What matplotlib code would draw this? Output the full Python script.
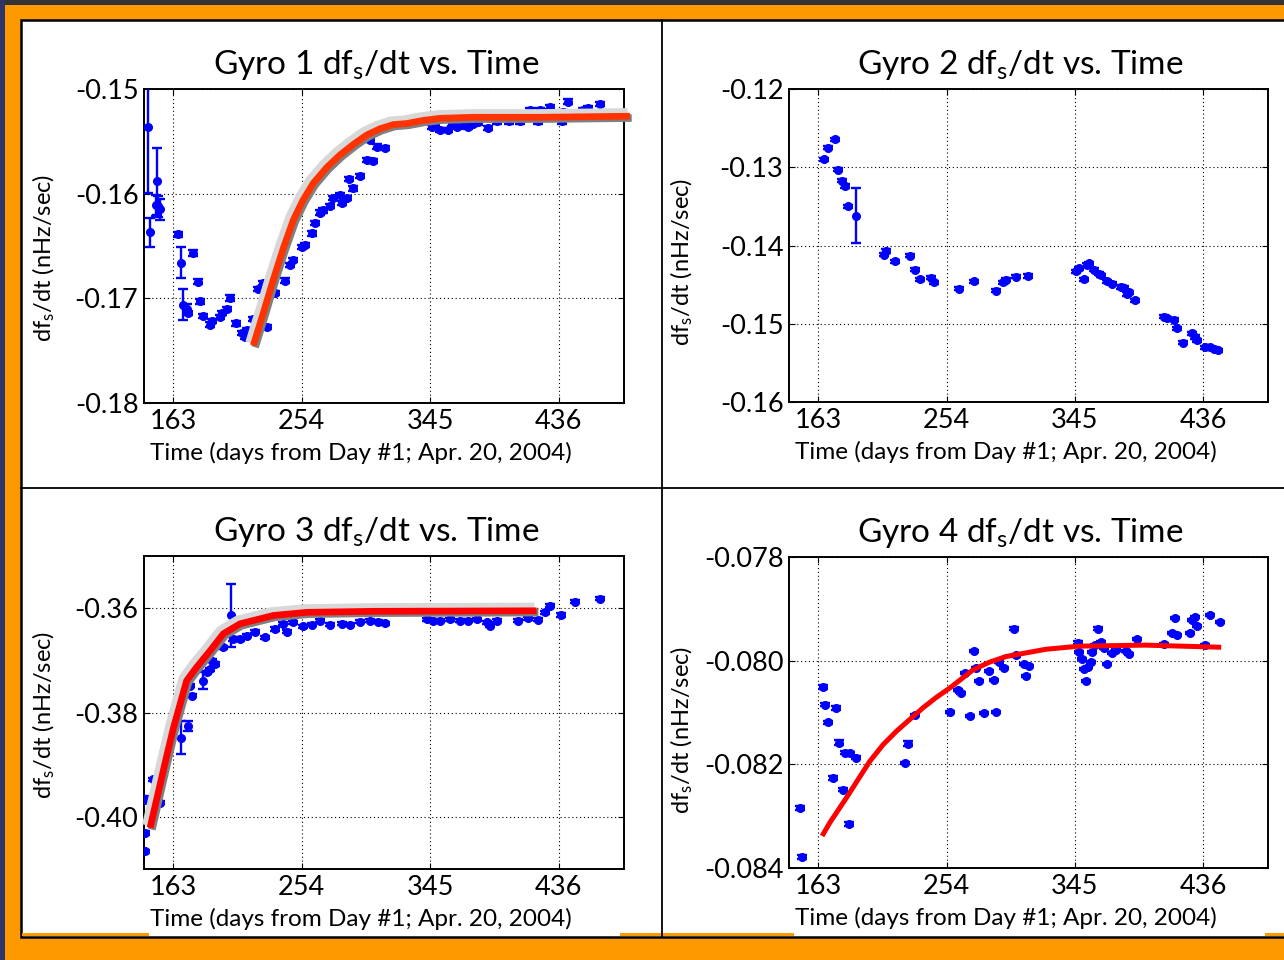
import matplotlib
matplotlib.use("Agg")
import matplotlib.pyplot as plt
import matplotlib.patheffects as pe
from matplotlib.patches import Rectangle
from matplotlib.lines import Line2D
from matplotlib.ticker import FormatStrFormatter

plt.rcParams["font.family"] = ["Lato", "DejaVu Sans"]
plt.rcParams["mathtext.fontset"] = "custom"
plt.rcParams["mathtext.rm"] = "Lato"
plt.rcParams["mathtext.it"] = "Lato:italic"
plt.rcParams["mathtext.bf"] = "Lato:bold"

# ---------------- data ----------------
day_ticks = [163, 254, 345, 436]

# Gyro 1
g1_days = [145.2, 146.5, 151.6, 150.7, 152.3, 153.5, 166.5, 168.2, 177.1, 170.0,
           172.4, 173.6, 180.7, 181.9, 184.2, 188.9, 190.1, 196.0, 197.2, 200.8,
           203.1, 207.4, 211.4, 213.7, 214.9, 219.6, 223.1, 226.3, 229.1, 235.0,
           242.1, 245.6, 248.0, 253.9, 256.2, 261.0, 263.3, 266.8, 269.2, 273.9,
           276.3, 281.0, 282.2, 285.8, 287.6, 290.4, 295.2, 299.9, 302.3, 304.6,
           307.4, 312.9, 345.9, 351.8, 357.7, 363.6, 371.9, 375.4, 386.0, 408.5,
           415.6, 421.5, 422.6, 429.7, 438.0, 439.1, 442.7, 453.3, 456.8, 465.2,
           348.5, 360.5, 368.5, 379.0, 392.0, 400.5]
g1_rate = [-0.1536, -0.1637, -0.1588, -0.1611, -0.1612, -0.1615, -0.1639, -0.1666, -0.1657, -0.1706,
           -0.1710, -0.1714, -0.1684, -0.1703, -0.1717, -0.1725, -0.1722, -0.1718, -0.1714, -0.1710,
           -0.1700, -0.1724, -0.1733, -0.1737, -0.1730, -0.1720, -0.1691, -0.1685, -0.1727, -0.1695,
           -0.1683, -0.1668, -0.1663, -0.1651, -0.1649, -0.1638, -0.1628, -0.1618, -0.1616, -0.1612,
           -0.1604, -0.1601, -0.1609, -0.1604, -0.1586, -0.1595, -0.1583, -0.1568, -0.1549, -0.1569,
           -0.1555, -0.1556, -0.1536, -0.1539, -0.1539, -0.1536, -0.1536, -0.1533, -0.1537, -0.1531,
           -0.1520, -0.1531, -0.1520, -0.1517, -0.1531, -0.1522, -0.1512, -0.1520, -0.1518, -0.1514,
           -0.1534, -0.1533, -0.1534, -0.1532, -0.1531, -0.1531]
g1_err = [0.0063, 0.0014, 0.0032, 0.0010, 0.0010, 0.0010, 0.0002, 0.0015, 0.0003, 0.0015,
          0.0005, 0.0002, 0.0002, 0.0002, 0.0002, 0.0002, 0.0002, 0.0002, 0.0002, 0.0002,
          0.0003, 0.0002, 0.0002, 0.0002, 0.0002, 0.0002, 0.0002, 0.0002, 0.0002, 0.0002,
          0.0002, 0.0002, 0.0002, 0.0002, 0.0002, 0.0002, 0.0002, 0.0002, 0.0002, 0.0002,
          0.0002, 0.0002, 0.0002, 0.0002, 0.0002, 0.0002, 0.0002, 0.0002, 0.0002, 0.0002,
          0.0002, 0.0002, 0.0002, 0.0002, 0.0002, 0.0002, 0.0002, 0.0002, 0.0002, 0.0002,
          0.0002, 0.0002, 0.0002, 0.0002, 0.0002, 0.0002, 0.0002, 0.0002, 0.0002, 0.0002,
          0.0002, 0.0002, 0.0002, 0.0002, 0.0002, 0.0002]
g1_fit_days = [219.6, 226.7, 233.8, 240.9, 248.0, 254.9, 262.1, 271.6, 281.0, 290.4,
               299.9, 309.3, 318.7, 328.2, 340.0, 351.8, 375.4, 422.6, 486.4]
g1_fit_rate = [-0.1745, -0.1714, -0.1682, -0.1652, -0.1625, -0.1606, -0.1590, -0.1575, -0.1563, -0.1553,
               -0.1544, -0.1538, -0.1534, -0.1533, -0.1530, -0.1528, -0.1527, -0.1527, -0.1526]

# Gyro 2
g2_days = [167.1, 170.1, 174.8, 177.2, 179.6, 181.9, 184.2, 189.5, 210.9, 209.5,
           217.3, 228.4, 231.4, 235.4, 243.2, 244.8, 263.2, 273.4, 289.2, 294.4,
           296.3, 303.3, 311.6, 345.8, 348.1, 351.7, 354.0, 355.2, 358.7, 362.2,
           363.4, 368.1, 371.6, 377.6, 379.9, 382.3, 383.5, 387.7, 408.2, 410.5,
           415.3, 417.6, 421.6, 428.2, 430.6, 431.8, 437.7, 441.2, 443.6, 446.6]
g2_rate = [-0.1290, -0.1275, -0.1264, -0.1303, -0.1317, -0.1324, -0.1350, -0.1362, -0.1407, -0.1412,
           -0.1420, -0.1413, -0.1431, -0.1443, -0.1441, -0.1447, -0.1455, -0.1446, -0.1458, -0.1447,
           -0.1444, -0.1440, -0.1439, -0.1433, -0.1429, -0.1443, -0.1425, -0.1423, -0.1431, -0.1436,
           -0.1438, -0.1446, -0.1449, -0.1453, -0.1454, -0.1462, -0.1460, -0.1470, -0.1491, -0.1493,
           -0.1495, -0.1506, -0.1524, -0.1512, -0.1517, -0.1521, -0.1530, -0.1530, -0.1532, -0.1534]
g2_err = [0.0002, 0.0002, 0.0002, 0.0002, 0.0002, 0.0003, 0.0002, 0.0035, 0.0002, 0.0002,
          0.0002, 0.0002, 0.0002, 0.0002, 0.0002, 0.0002, 0.0002, 0.0002, 0.0002, 0.0002,
          0.0002, 0.0002, 0.0002, 0.0002, 0.0002, 0.0002, 0.0002, 0.0002, 0.0002, 0.0002,
          0.0002, 0.0002, 0.0002, 0.0002, 0.0002, 0.0002, 0.0002, 0.0002, 0.0002, 0.0002,
          0.0002, 0.0002, 0.0002, 0.0002, 0.0002, 0.0002, 0.0002, 0.0002, 0.0002, 0.0002]

# Gyro 3
g3_days = [142.9, 142.9, 142.9, 148.8, 153.5, 168.2, 173.6, 176.0, 174.8, 184.2,
           186.6, 188.9, 190.1, 192.5, 203.6, 198.4, 205.5, 210.2, 214.9, 220.8,
           227.9, 225.5, 235.0, 243.2, 240.9, 248.0, 255.1, 261.0, 266.9, 274.0,
           282.2, 288.1, 295.2, 302.3, 308.2, 312.9, 342.4, 347.1, 351.8, 358.9,
           366.0, 371.9, 377.8, 384.9, 387.2, 391.9, 407.3, 414.4, 421.5, 426.2,
           429.7, 437.3, 447.4, 465.1]
g3_rate = [-0.3967, -0.4031, -0.4066, -0.3928, -0.3973, -0.3848, -0.3826, -0.3768, -0.3749, -0.3739,
           -0.3723, -0.3717, -0.3701, -0.3707, -0.3614, -0.3675, -0.3659, -0.3659, -0.3653, -0.3645,
           -0.3656, -0.3614, -0.3640, -0.3645, -0.3630, -0.3627, -0.3635, -0.3632, -0.3624, -0.3632,
           -0.3630, -0.3632, -0.3626, -0.3624, -0.3626, -0.3629, -0.3621, -0.3624, -0.3624, -0.3621,
           -0.3624, -0.3624, -0.3621, -0.3627, -0.3634, -0.3624, -0.3624, -0.3619, -0.3622, -0.3608,
           -0.3595, -0.3613, -0.3588, -0.3582]
g3_err = [0.0006, 0.0003, 0.0003, 0.0003, 0.0003, 0.0032, 0.0010, 0.0003, 0.0003, 0.0016,
          0.0003, 0.0003, 0.0003, 0.0003, 0.0061, 0.0003, 0.0003, 0.0003, 0.0003, 0.0003,
          0.0003, 0.0003, 0.0003, 0.0003, 0.0003, 0.0003, 0.0003, 0.0003, 0.0003, 0.0003,
          0.0003, 0.0003, 0.0003, 0.0003, 0.0003, 0.0003, 0.0003, 0.0003, 0.0003, 0.0003,
          0.0003, 0.0003, 0.0003, 0.0003, 0.0003, 0.0003, 0.0003, 0.0003, 0.0003, 0.0003,
          0.0003, 0.0003, 0.0003, 0.0003]
g3_fit_days = [146.5, 158.3, 163.0, 172.4, 179.5, 188.9, 198.4, 210.2, 233.8, 257.4, 304.6, 420.3]
g3_fit_rate = [-0.4021, -0.3883, -0.3830, -0.3739, -0.3713, -0.3682, -0.3649, -0.3630, -0.3614,
               -0.3608, -0.3606, -0.3605]

# Gyro 4
g4_days = [150.1, 151.3, 166.6, 167.8, 170.1, 175.6, 173.6, 177.9, 180.3, 181.9,
           185.4, 189.7, 184.7, 224.4, 226.7, 231.4, 256.7, 262.0, 264.4, 266.8,
           270.8, 273.8, 275.0, 277.4, 280.4, 284.4, 288.0, 289.2, 291.5, 295.1,
           301.6, 303.3, 309.2, 310.4, 312.3, 347.6, 348.1, 350.0, 351.7, 352.8,
           354.7, 356.4, 357.5, 359.4, 361.8, 363.4, 365.8, 368.1, 371.6, 374.0,
           381.1, 383.5, 389.3, 408.2, 414.1, 416.0, 417.6, 427.1, 428.2, 430.6,
           431.8, 437.7, 441.2, 448.2]
g4_rate = [-0.08285, -0.08379, -0.08051, -0.08085, -0.08119, -0.08091, -0.08226, -0.08158, -0.08249, -0.08178,
           -0.08179, -0.08187, -0.08315, -0.08197, -0.08160, -0.08105, -0.08099, -0.08056, -0.08063, -0.08024,
           -0.08107, -0.07981, -0.08015, -0.08039, -0.08101, -0.08020, -0.08037, -0.08099, -0.08002, -0.08015,
           -0.07938, -0.07990, -0.08007, -0.08029, -0.08010, -0.07965, -0.07983, -0.07997, -0.08016, -0.08039,
           -0.08012, -0.08003, -0.07983, -0.07970, -0.07938, -0.07964, -0.07976, -0.08006, -0.07986, -0.07980,
           -0.07981, -0.07988, -0.07958, -0.07967, -0.07947, -0.07918, -0.07951, -0.07946, -0.07922, -0.07916,
           -0.07933, -0.07970, -0.07912, -0.07926]
g4_err = [0.00004, 0.00004, 0.00004, 0.00003, 0.00003, 0.00004, 0.00004, 0.00004, 0.00003, 0.00003,
          0.00003, 0.00003, 0.00004, 0.00002, 0.00005, 0.00002, 0.00002, 0.00002, 0.00002, 0.00002,
          0.00002, 0.00002, 0.00002, 0.00002, 0.00002, 0.00002, 0.00002, 0.00002, 0.00002, 0.00002,
          0.00002, 0.00002, 0.00002, 0.00002, 0.00002, 0.00002, 0.00002, 0.00002, 0.00002, 0.00002,
          0.00002, 0.00002, 0.00002, 0.00002, 0.00002, 0.00002, 0.00002, 0.00002, 0.00002, 0.00002,
          0.00002, 0.00002, 0.00002, 0.00002, 0.00002, 0.00002, 0.00002, 0.00002, 0.00002, 0.00002,
          0.00002, 0.00002, 0.00002, 0.00002]
g4_fit_days = [166.6, 171.3, 183.1, 191.3, 199.6, 209.0, 218.5, 237.3, 246.7, 256.2, 272.7,
               284.4, 296.3, 324.6, 348.2, 395.3, 447.2]
g4_fit_rate = [-0.08334, -0.08312, -0.08264, -0.08229, -0.08194, -0.08162, -0.08136, -0.08091,
               -0.08071, -0.08053, -0.08018, -0.08003, -0.07992, -0.07978, -0.07972, -0.07970, -0.07974]

# ---------------- figure / slide frame ----------------
W, H = 1284, 960
fig = plt.figure(figsize=(W / 100, H / 100), dpi=100)
fig.patch.set_facecolor("#FF9900")


def frac_box(x0, y0, x1, y1):
    return [x0 / W, 1 - y1 / H, (x1 - x0) / W, (y1 - y0) / H]


def slide_rect(x0, y0, x1, y1, **kw):
    b = frac_box(x0, y0, x1, y1)
    fig.add_artist(Rectangle((b[0], b[1]), b[2], b[3], transform=fig.transFigure,
                             zorder=-10, **kw))


slide_rect(0, 0, W, 5, facecolor="#333333", edgecolor="none")
slide_rect(0, 0, 5, H, facecolor="#2E3468", edgecolor="none")
slide_rect(21, 20, W + 10, 936.5, facecolor="white", edgecolor="black", linewidth=1.8)
for xa, xb in [(22, 149), (620, 794), (1265, W)]:
    slide_rect(xa, 932.5, xb, 935.5, facecolor="#FF9900", edgecolor="none")
fig.add_artist(Line2D([662 / W, 662 / W], [1 - 20 / H, 1 - 936 / H],
                      transform=fig.transFigure, color="black", linewidth=1.3, zorder=-5))
fig.add_artist(Line2D([21 / W, 1.0], [1 - 487.5 / H, 1 - 487.5 / H],
                      transform=fig.transFigure, color="black", linewidth=1.3, zorder=-5))

# ---------------- panels ----------------
ylabel = "df$_\\mathrm{s}$/dt (nHz/sec)"
xlabel = "Time (days from Day #1; Apr. 20, 2004)"

panels = [
    dict(box=(144, 89, 624, 403), title="Gyro 1 df$_\\mathrm{s}$/dt vs. Time",
         ylim=(-0.18, -0.15), yticks=[-0.18, -0.17, -0.16, -0.15], fmt="%.2f",
         days=g1_days, rate=g1_rate, err=g1_err, ylab_xy=(-0.181, 0.463),
         fit=(g1_fit_days, g1_fit_rate), fitcolor="#FF3300", shadow=True),
    dict(box=(789, 89, 1268, 402), title="Gyro 2 df$_\\mathrm{s}$/dt vs. Time",
         ylim=(-0.16, -0.12), yticks=[-0.16, -0.15, -0.14, -0.13, -0.12], fmt="%.2f",
         days=g2_days, rate=g2_rate, err=g2_err, ylab_xy=(-0.196, 0.447), fit=None),
    dict(box=(144, 556, 624, 869), title="Gyro 3 df$_\\mathrm{s}$/dt vs. Time",
         ylim=(-0.41, -0.35), yticks=[-0.40, -0.38, -0.36], fmt="%.2f",
         days=g3_days, rate=g3_rate, err=g3_err, ylab_xy=(-0.181, 0.492),
         fit=(g3_fit_days, g3_fit_rate), fitcolor="#FF0000", shadow=True),
    dict(box=(789, 557, 1268, 868), title="Gyro 4 df$_\\mathrm{s}$/dt vs. Time",
         ylim=(-0.084, -0.078), yticks=[-0.084, -0.082, -0.080, -0.078], fmt="%.3f",
         days=g4_days, rate=g4_rate, err=g4_err, ylab_xy=(-0.196, 0.444),
         fit=(g4_fit_days, g4_fit_rate), fitcolor="#FF0000", shadow=False),
]

for p in panels:
    ax = fig.add_axes(frac_box(*p["box"]))
    ax.set_xlim(142.2, 482.2)
    ax.set_ylim(*p["ylim"])
    ax.set_xticks(day_ticks)
    ax.set_yticks(p["yticks"])
    ax.yaxis.set_major_formatter(FormatStrFormatter(p["fmt"]))
    ax.grid(True, color="black", linestyle=(0, (1, 2.5)), linewidth=0.8)
    ax.tick_params(direction="in", length=4, width=0.8, labelsize=19.5,
                   top=True, right=True)
    ax.tick_params(axis="x", pad=4)
    ax.tick_params(axis="y", pad=4)
    for s in ax.spines.values():
        s.set_linewidth(1.4)
    ax.set_title(p["title"], fontsize=24, pad=10.5, x=0.483)
    ax.set_xlabel(xlabel, fontsize=17.5, labelpad=6, x=0.0125, ha="left")
    ax.set_ylabel(ylabel, fontsize=17)
    ax.yaxis.set_label_coords(*p["ylab_xy"])

    ax.errorbar(p["days"], p["rate"], yerr=p["err"], fmt="o", color="#0000FF",
                markersize=5.5, elinewidth=1.7, capsize=3.8, capthick=1.7, zorder=3)

    if p["fit"] is not None:
        fd, fr = p["fit"]
        if p["shadow"]:
            effects = [pe.SimpleLineShadow(offset=(-1.6, 1.6), shadow_color="#d8d8d8",
                                           alpha=1.0, linewidth=8.5),
                       pe.SimpleLineShadow(offset=(1.3, -1.3), shadow_color="#808080",
                                           alpha=1.0, linewidth=5.5),
                       pe.Normal()]
            ax.plot(fd, fr, color=p["fitcolor"], linewidth=4.8, solid_capstyle="butt",
                    clip_on=False, zorder=4, path_effects=effects)
        else:
            ax.plot(fd, fr, color=p["fitcolor"], linewidth=3.6, zorder=4)

fig.savefig("out.png", dpi=100, facecolor=fig.get_facecolor())
